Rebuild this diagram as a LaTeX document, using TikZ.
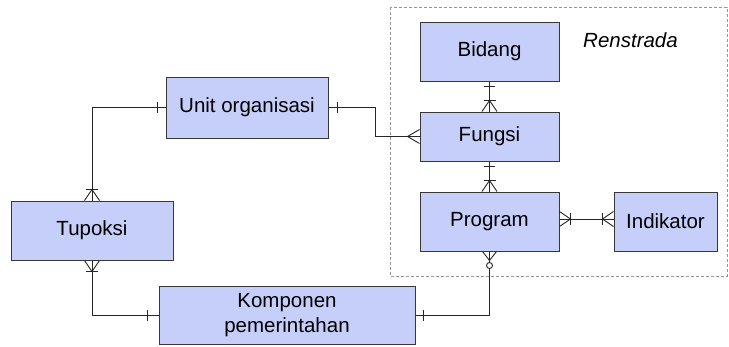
\documentclass[tikz,border=0pt]{standalone}
\usepackage{fontspec}
\setmainfont{Liberation Sans}
\usetikzlibrary{calc}
\definecolor{boxfill}{RGB}{198,206,250}
\definecolor{boxline}{RGB}{55,55,55}
\definecolor{frameline}{RGB}{150,150,150}
\tikzset{
  entity/.style={draw=boxline, fill=boxfill, line width=1pt, rectangle, inner sep=0pt,
    font=\fontsize{20.5}{24.5}\selectfont, align=center},
  conn/.style={draw=black!85, line width=0.9pt},
  onemark/.pic={\draw[conn] (#1,-5.5) -- (#1,5.5);},
  onemany/.pic={\draw[conn] (11,-6) -- (11,6); \draw[conn] (0,-7.5) -- (11,0) -- (0,7.5);},
  manymark/.pic={\draw[conn] (0,-7) -- (12,0) -- (0,7);},
  zeromany/.pic={\draw[conn] (0,-7) -- (9,0) -- (0,7); \draw[conn, fill=white] (14,0) circle (3pt);}
}
\begin{document}
\begin{tikzpicture}[x=1pt, y=-1pt]
\useasboundingbox (0,0) rectangle (729,346);
\draw[frameline, line width=0.8pt, dash pattern=on 3pt off 2pt] (390,7) rectangle (727,276);
\node[font=\fontsize{20.5}{24.5}\selectfont\itshape] (ren) at (630.5,40) {Renstrada};

\node[entity, minimum width=139pt, minimum height=59pt] (bidang) at (489.5,51.5) {Bidang};
\node[entity, minimum width=139pt, minimum height=49pt] (fungsi) at (489.5,136.5) {Fungsi};
\node[entity, minimum width=139pt, minimum height=59pt] (program) at (489.5,221.5) {Program};
\node[entity, minimum width=103pt, minimum height=59pt] (indikator) at (665.5,221.5) {Indikator};
\node[entity, minimum width=162pt, minimum height=61pt] (unit) at (247,107.5) {Unit organisasi};
\node[entity, minimum width=162pt, minimum height=59pt] (tupoksi) at (92,230.5) {Tupoksi};
\node[entity, minimum width=256pt, minimum height=58pt] (komponen) at (287,315) {Komponen\\pemerintahan};

\draw[conn] (unit.west) -| (tupoksi.north);
\draw[conn] (unit.east) -- ++(47,0) |- (fungsi.west);
\draw[conn] (bidang.south) -- (fungsi.north);
\draw[conn] (fungsi.south) -- (program.north);
\draw[conn] ([yshift=2.5pt]program.east) -- ([yshift=2.5pt]indikator.west);
\draw[conn] (tupoksi.south) |- (komponen.west);
\draw[conn] (komponen.east) -| (program.south);

\pic[rotate=180] at (unit.west) {onemark=8};
\pic[rotate=90] at (tupoksi.north) {onemany};
\pic at (unit.east) {onemark=9};
\pic[rotate=180] at (fungsi.west) {manymark};
\pic[rotate=-90] at (bidang.south) {onemark=5};
\pic[rotate=90] at (fungsi.north) {onemany};
\pic[rotate=-90] at (fungsi.south) {onemark=5};
\pic[rotate=90] at (program.north) {onemany};
\pic at ([yshift=2.5pt]program.east) {onemany};
\pic[rotate=180] at ([yshift=2.5pt]indikator.west) {onemany};
\pic[rotate=-90] at (tupoksi.south) {onemany};
\pic[rotate=180] at (komponen.west) {onemark=11};
\pic at (komponen.east) {onemark=8};
\pic[rotate=-90] at (program.south) {zeromany};
\end{tikzpicture}
\end{document}
